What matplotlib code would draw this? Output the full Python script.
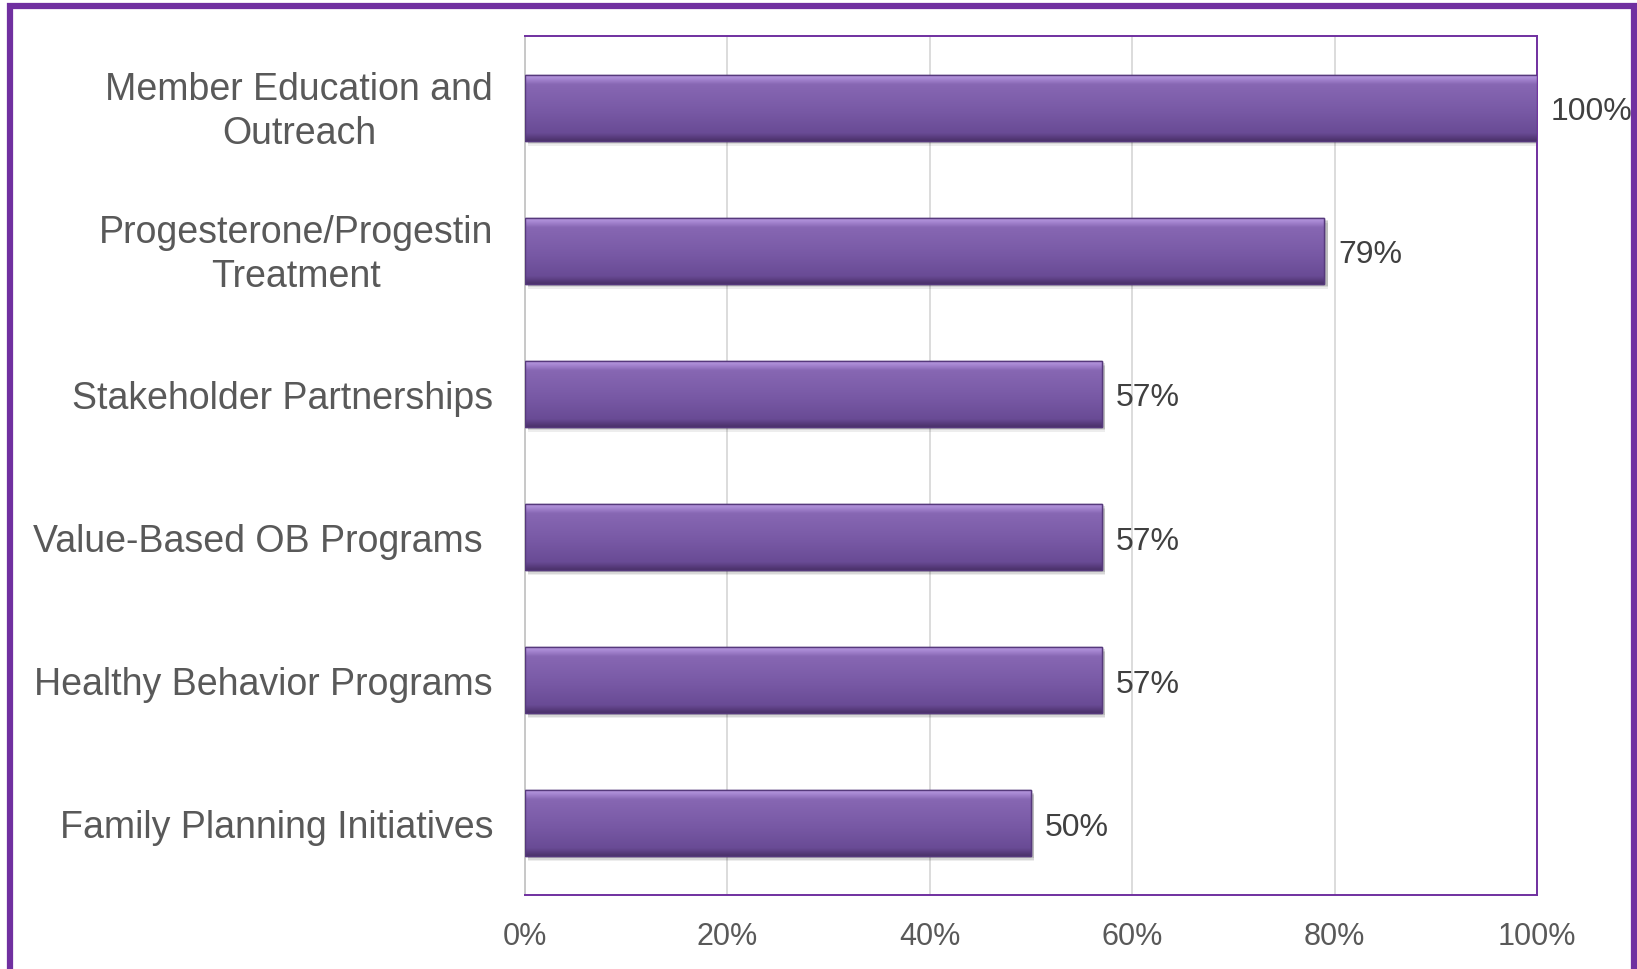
import numpy as np
import matplotlib
matplotlib.use("Agg")
import matplotlib.pyplot as plt
import matplotlib.transforms as mtransforms
from matplotlib.colors import LinearSegmentedColormap
from matplotlib.lines import Line2D

categories = ["Member Education and\nOutreach",
              "Progesterone/Progestin\nTreatment",
              "Stakeholder Partnerships",
              "Value-Based OB Programs ",
              "Healthy Behavior Programs",
              "Family Planning Initiatives"]
values = [100, 79, 57, 57, 57, 50]
xticks = [0, 20, 40, 60, 80, 100]
xtick_labels = ["0%", "20%", "40%", "60%", "80%", "100%"]

plt.rcParams['font.family'] = ['Liberation Sans', 'DejaVu Sans']
W, H = 1637, 970
fig = plt.figure(figsize=(W / 100, H / 100), dpi=100)
ax = fig.add_axes([525 / W, 1 - 896 / H, 1012 / W, 859 / H])

purple = "#7030A0"
text_col = "#595959"

y = np.arange(len(categories))
bh = 0.46

cmap = LinearSegmentedColormap.from_list("bar", [
    (0.0, "#b89ae0"), (0.06, "#a585d0"), (0.14, "#8767b3"),
    (0.55, "#7859a5"), (0.88, "#694b95"), (0.95, "#573b7c"), (1.0, "#4a3168")])
grad = np.linspace(0, 1, 256).reshape(-1, 1)

# soft shadows
for off, a in [(0.035, 0.07), (0.025, 0.09), (0.015, 0.12)]:
    ax.barh(y + off, values, height=bh, left=0.3, color="#000000", alpha=a,
            linewidth=0, zorder=2)

bars = ax.barh(y, values, height=bh, color="#7859a5", edgecolor="#56397c",
               linewidth=1.0, zorder=3)
for b in bars:
    x0, y0, w, h = b.get_x(), b.get_y(), b.get_width(), b.get_height()
    im = ax.imshow(grad, cmap=cmap, aspect="auto", extent=(x0, x0 + w, y0 + h, y0),
                   zorder=3.5, interpolation="bicubic")
    im.set_clip_path(b)
    ax.add_patch(plt.Rectangle((x0, y0), w, h, fill=False, edgecolor="#56397c",
                               linewidth=1.0, zorder=4))

for yi, v in zip(y, values):
    ax.annotate(f"{v}%", (v, yi), xytext=(10, 0), textcoords="offset points",
                ha="left", va="center_baseline", fontsize=23, color="#404040", zorder=5)

ax.set_xlim(0, 100)
ax.set_ylim(len(categories) - 0.5, -0.5)
ax.set_xticks(xticks)
ax.set_xticklabels(xtick_labels, fontsize=22, color=text_col)
ax.set_yticks(y)
ax.set_yticklabels(categories, fontsize=27, color=text_col, multialignment="center",
                   linespacing=1.27)
ax.tick_params(axis="both", length=0)
ax.tick_params(axis="x", pad=19)
ax.tick_params(axis="y", pad=23)
shift = mtransforms.ScaledTranslation(0, 4.5 / 100, fig.dpi_scale_trans)
for lab in ax.get_yticklabels():
    if "\n" in lab.get_text():
        lab.set_transform(lab.get_transform() + shift)
ax.grid(axis="x", color="#d9d9d9", linewidth=1.3, zorder=0)
ax.set_axisbelow(True)
for s in ["top", "right", "bottom"]:
    ax.spines[s].set_color(purple)
    ax.spines[s].set_linewidth(1.4)
ax.spines["left"].set_color("#c8c8c8")
ax.spines["left"].set_linewidth(1.4)

# outer border (top, left, right)
lw = 4.5
fig.add_artist(Line2D([10 / W, 10 / W, 1634 / W, 1634 / W],
                      [-0.05, 1 - 7 / H, 1 - 7 / H, -0.05],
                      transform=fig.transFigure, color=purple, linewidth=lw,
                      solid_joinstyle="miter"))

fig.savefig("out.png", dpi=100)
